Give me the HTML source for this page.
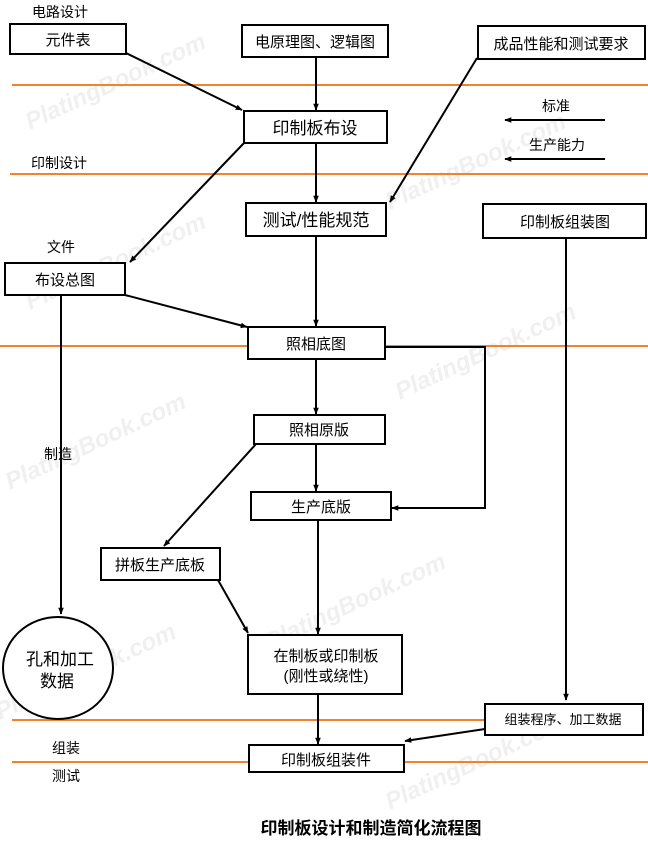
<!DOCTYPE html>
<html><head><meta charset="utf-8"><style>
html,body{margin:0;padding:0;background:#fff;}
svg{display:block;}
text{font-family:"Liberation Sans","Noto Sans CJK SC",sans-serif;fill:#000;}
</style></head><body>
<svg width="648" height="842" viewBox="0 0 648 842" xmlns="http://www.w3.org/2000/svg">
<defs>
<marker id="a" viewBox="0 0 10 10" refX="9" refY="5" markerWidth="7" markerHeight="7" orient="auto-start-reverse" markerUnits="userSpaceOnUse">
<path d="M0,1 L10,5 L0,9 z" fill="#000"/></marker>
</defs>
<g font-size="24" font-style="italic" font-weight="bold">
<text x="30" y="130" transform="rotate(-25 30 130)" style="fill:#f0f0f0">PlatingBook.com</text>
<text x="30" y="310" transform="rotate(-25 30 310)" style="fill:#f0f0f0">PlatingBook.com</text>
<text x="390" y="210" transform="rotate(-25 390 210)" style="fill:#f0f0f0">PlatingBook.com</text>
<text x="10" y="490" transform="rotate(-25 10 490)" style="fill:#f0f0f0">PlatingBook.com</text>
<text x="400" y="400" transform="rotate(-25 400 400)" style="fill:#f0f0f0">PlatingBook.com</text>
<text x="0" y="720" transform="rotate(-25 0 720)" style="fill:#f0f0f0">PlatingBook.com</text>
<text x="270" y="650" transform="rotate(-25 270 650)" style="fill:#f0f0f0">PlatingBook.com</text>
<text x="390" y="810" transform="rotate(-25 390 810)" style="fill:#f0f0f0">PlatingBook.com</text>
</g>
<g stroke="#f5822a" stroke-width="2">
<line x1="12" y1="85" x2="648" y2="85"/>
<line x1="10" y1="174" x2="648" y2="174"/>
<line x1="0" y1="346" x2="648" y2="346"/>
<line x1="12" y1="720" x2="485" y2="720"/>
<line x1="12" y1="762" x2="249" y2="762"/>
<line x1="404" y1="762" x2="648" y2="762"/>
</g>
<g stroke="#000" stroke-width="2" fill="none">
<line x1="126" y1="53" x2="242" y2="110" marker-end="url(#a)"/>
<line x1="316" y1="57" x2="316" y2="110" marker-end="url(#a)"/>
<line x1="477" y1="58" x2="390" y2="202" marker-end="url(#a)"/>
<line x1="605" y1="120" x2="505" y2="120" marker-end="url(#a)"/>
<line x1="605" y1="159" x2="505" y2="159" marker-end="url(#a)"/>
<line x1="316" y1="143" x2="316" y2="202" marker-end="url(#a)"/>
<line x1="244" y1="143" x2="130" y2="262" marker-end="url(#a)"/>
<line x1="316" y1="236" x2="316" y2="326" marker-end="url(#a)"/>
<line x1="125" y1="295" x2="247" y2="327" marker-end="url(#a)"/>
<line x1="316" y1="359" x2="316" y2="414" marker-end="url(#a)"/>
<polyline points="385,347 485,347 485,508 392,508" marker-end="url(#a)"/>
<line x1="316" y1="444" x2="316" y2="491" marker-end="url(#a)"/>
<line x1="256" y1="444" x2="164" y2="546" marker-end="url(#a)"/>
<line x1="318" y1="520" x2="318" y2="634" marker-end="url(#a)"/>
<line x1="218" y1="580" x2="248" y2="633" marker-end="url(#a)"/>
<line x1="61" y1="295" x2="61" y2="614" marker-end="url(#a)"/>
<line x1="566" y1="238" x2="566" y2="700" marker-end="url(#a)"/>
<line x1="318" y1="694" x2="318" y2="744" marker-end="url(#a)"/>
<line x1="485" y1="729" x2="405" y2="741" marker-end="url(#a)"/>
</g>
<g stroke="#000" stroke-width="2" fill="#fff">
<rect x="10" y="24" width="116" height="30"/>
<rect x="242" y="25" width="146" height="32"/>
<rect x="478" y="26" width="167" height="33"/>
<rect x="244" y="111" width="143" height="32"/>
<rect x="246" y="203" width="140" height="33"/>
<rect x="483" y="204" width="163" height="34"/>
<rect x="5" y="263" width="120" height="32"/>
<rect x="248" y="327" width="137" height="32"/>
<rect x="254" y="415" width="131" height="29"/>
<rect x="251" y="492" width="140" height="28"/>
<rect x="101" y="548" width="119" height="32"/>
<rect x="248" y="635" width="154" height="59"/>
<ellipse cx="58" cy="668" rx="55" ry="51"/>
<rect x="485" y="704" width="158" height="31"/>
<rect x="249" y="745" width="155" height="27"/>
</g>
<g font-size="15" text-anchor="middle">
<text x="68" y="45">元件表</text>
<text x="315" y="47">电原理图、逻辑图</text>
<text x="561" y="49">成品性能和测试要求</text>
<text x="315" y="134" font-size="17">印制板布设</text>
<text x="316" y="226" font-size="17">测试/性能规范</text>
<text x="565" y="227">印制板组装图</text>
<text x="65" y="285">布设总图</text>
<text x="316" y="349">照相底图</text>
<text x="319" y="435">照相原版</text>
<text x="321" y="512">生产底版</text>
<text x="160" y="570">拼板生产底板</text>
<text x="326" y="661">在制板或印制板</text>
<text x="326" y="681">(刚性或绕性)</text>
<text x="60" y="665" font-size="17">孔和加工</text>
<text x="57" y="687" font-size="17">数据</text>
<text x="563" y="724" font-size="13">组装程序、加工数据</text>
<text x="326" y="765">印制板组装件</text>
</g>
<g font-size="14">
<text x="32" y="17">电路设计</text>
<text x="542" y="111">标准</text>
<text x="529" y="150">生产能力</text>
<text x="31" y="168">印制设计</text>
<text x="47" y="252">文件</text>
<text x="44" y="459">制造</text>
<text x="52" y="753">组装</text>
<text x="52" y="781">测试</text>
</g>
<text x="371" y="834" font-size="17" text-anchor="middle" font-weight="bold">印制板设计和制造简化流程图</text>
</svg>
</body></html>
